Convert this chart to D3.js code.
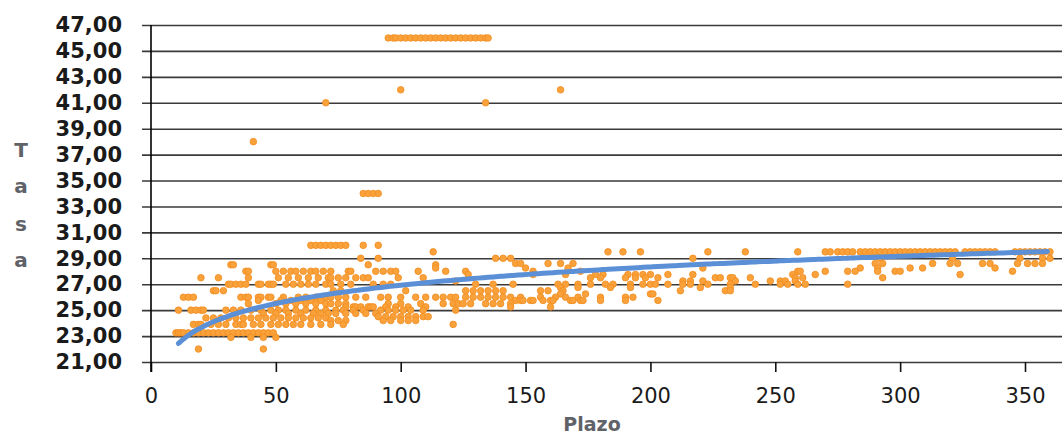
<!DOCTYPE html>
<html>
<head>
<meta charset="utf-8">
<script src="https://cdn.jsdelivr.net/npm/d3@7"></script>
<style>
  body { margin: 0; background: #fff; }
  svg { display: block; }
</style>
</head>
<body>
<div id="chart-area"></div>
<script>

// tasa levels and the plazo values that sit on each level
var tasaNiveles = [46, 42, 41, 38, 34, 30, 29.5, 29, 28.6, 28.5, 28.25, 28, 27.75, 27.5, 27.25, 27,
    26.75, 26.5, 26.25, 26, 25.75, 25.5, 25.25, 25, 24.75, 24.5, 24.4, 24.2, 23.9, 23.25, 22.9, 22];

var plazosPorNivel = [
    [95,97,98,100,102,104,106,108,110,112,114,116,118,120,122,124,126,128,130,132,134,135],
    [100,164],
    [70,134],
    [41],
    [85,87,89,91],
    [64,66,68,70,72,74,76,78,85,91],
    [113,183,189,196,223,238,259,270,272,275,277,279,281,284,286,288,290,292,294,296,298,300,302,304,
     306,308,310,312,314,316,318,320,322,326,328,330,332,334,336,338,346,348,350,352,354,356,358,360],
    [84,91,138,141,144,217,292,321,348,357,360],
    [146,148,159,164,169,290,293,313,320,323,333,336,347,351,354,357],
    [32,33,48,49,87,114],
    [114,150,167,221,284,291,304,309,338],
    [38,39,50,53,56,58,61,64,66,69,72,79,80,90,93,96,98,107,118,126,153,172,259,260,270,279,282,291,298,300,345],
    [127,153,166,178,181,191,194,197,200,207,217,257,266,324],
    [20,27,39,51,55,59,63,67,71,72,75,78,82,85,87,99,109,176,180,190,194,198,203,226,228,232,233,240,258,261,293],
    [122,213,216,221,234,248,252,254,258],
    [31,32,34,36,38,43,44,47,48,49,54,57,60,63,66,70,72,76,80,89,93,96,130,137,145,163,166,171,176,182,185,
     192,197,200,202,207,213,216,223,232,242,252,255,259,262,279],
    [164,171,184,192,220,232],
    [25,26,29,73,76,102,126,129,132,135,138,141,156,159,165,212,230,232],
    [164,174,200,201],
    [13,15,17,36,38,39,43,44,47,48,53,59,62,66,70,72,75,78,82,86,92,95,100,106,110,114,117,120,122,126,129,
     132,135,138,141,144,148,156,162,166,171,180,190,193],
    [43,52,56,60,64,68,146,148,149,152,153,157,160,161,168,169,172,173,180,190,203],
    [39,50,54,58,62,66,70,72,75,78,95,100,108,117,121,123,125,128,134,137,140,144],
    [78,81,82,84,87,88,89,94,98,103,110,144,160],
    [11,16,18,20,21,30,33,36,40,44,48,51,54,58,62,66,70,74,77,81,85,92,95,98,101,104,109,122],
    [45,50,55,60,65,68,71,74,78,82,86,90],
    [91,94,97,100,103,106,109,111],
    [22,25,28,31,34,37,40,43,46,49,52,55,58,61,64,67,70],
    [72,75,78,93,96,100,103,106],
    [17,19,20,24,27,30,34,36,37,41,44,48,51,54,57,60,64,68,72,77,121],
    [10,11,12,13,15,17,19,21,23,25,27,29,31,33,35,37,39,41,43,45,47,49],
    [32,40,45,50],
    [19,45]
];

// logarithmic trend line: tasa = a + b * ln(plazo)
var tendenciaA = 17.55, tendenciaB = 2.035;
var tendenciaDesde = 11, tendenciaHasta = 360;

var yTicks = [21, 23, 25, 27, 29, 31, 33, 35, 37, 39, 41, 43, 45, 47];
var xTicks = [0, 50, 100, 150, 200, 250, 300, 350];

var data = [];
tasaNiveles.forEach(function(t, i){
    plazosPorNivel[i].forEach(function(p){
        data.push({ plazo: p, tasa: t });
    });
});

var margin = { left:151, right:0, top:25, bottom:72 },
    fullW = 1062, fullH = 434,
    height = fullH - margin.top - margin.bottom,
    width = fullW - margin.left - margin.right;

var svg = d3.select("#chart-area")
    .append("svg")
    .attr("width", fullW)
    .attr("height", fullH);
var g = svg.append("g")
    .attr("transform", "translate(" + margin.left + ", " + margin.top + ")");

var x = d3.scaleLinear()
    .domain([0, 350])
    .range([0, 874]);

var y = d3.scaleLinear()
    .domain([21, 47])
    .range([height, 0]);

var fmt = function(d){ return d3.format(".2f")(d).replace(".", ","); };

// gridlines + y labels
var yAxisCall = d3.axisLeft(y)
    .tickValues(yTicks)
    .tickSize(-(width + 9))
    .tickFormat(fmt);
var yAxis = g.append("g")
    .attr("class", "y axis")
    .call(yAxisCall);
yAxis.select(".domain").remove();
yAxis.selectAll(".tick line")
    .attr("x1", -9)
    .attr("x2", width)
    .attr("stroke", "#3a3a3a")
    .attr("stroke-width", 1.6);
yAxis.selectAll(".tick text")
    .attr("x", -29)
    .attr("font-family", "DejaVu Sans")
    .attr("font-weight", "bold")
    .attr("font-size", "21px")
    .attr("fill", "#1a1a1a");

// x axis
var xAxisCall = d3.axisBottom(x)
    .tickValues(xTicks)
    .tickSize(10)
    .tickSizeOuter(0);
var xAxis = g.append("g")
    .attr("class", "x axis")
    .attr("transform", "translate(0," + height + ")")
    .call(xAxisCall);
xAxis.select(".domain").remove();
xAxis.selectAll(".tick line")
    .attr("stroke", "#111")
    .attr("stroke-width", 1.6);
xAxis.selectAll(".tick text")
    .attr("y", 26)
    .attr("dy", "0.71em")
    .attr("font-family", "DejaVu Sans")
    .attr("font-size", "21px")
    .attr("fill", "#1a1a1a");

// vertical axis line
g.append("line")
    .attr("x1", 0).attr("x2", 0)
    .attr("y1", 0).attr("y2", height + 10)
    .attr("stroke", "#000")
    .attr("stroke-width", 1.6);

// points
g.selectAll(".pt")
    .data(data)
    .enter()
    .append("circle")
    .attr("class", "pt")
    .attr("cx", function(d){ return x(d.plazo); })
    .attr("cy", function(d){ return y(d.tasa); })
    .attr("r", 3.3)
    .attr("fill", "#f9a23b")
    .attr("stroke", "#f28c1e")
    .attr("stroke-width", 0.8);

// trend line
var trend = d3.range(tendenciaDesde, tendenciaHasta + 1, 2).map(function(p){
    return { plazo: p, tasa: tendenciaA + tendenciaB * Math.log(p) };
});
g.append("path")
    .datum(trend)
    .attr("fill", "none")
    .attr("stroke", "#5b8fd6")
    .attr("stroke-width", 5)
    .attr("stroke-linecap", "round")
    .attr("d", d3.line()
        .curve(d3.curveMonotoneX)
        .x(function(d){ return x(d.plazo); })
        .y(function(d){ return y(d.tasa); }));

// axis titles
svg.append("text")
    .attr("x", 592)
    .attr("y", 431)
    .attr("text-anchor", "middle")
    .attr("font-family", "DejaVu Sans")
    .attr("font-weight", "bold")
    .attr("font-size", "19px")
    .attr("fill", "#5f6368")
    .text("Plazo");

var yLab = svg.append("text")
    .attr("font-family", "DejaVu Sans")
    .attr("font-weight", "bold")
    .attr("font-size", "20px")
    .attr("fill", "#5f6368")
    .attr("text-anchor", "middle");
var letras = ["T", "a", "s", "a"];
var bases = [157, 193, 231, 267];
letras.forEach(function(l, i){
    yLab.append("tspan")
        .attr("x", 21)
        .attr("y", bases[i])
        .text(l);
});

</script>
</body>
</html>
